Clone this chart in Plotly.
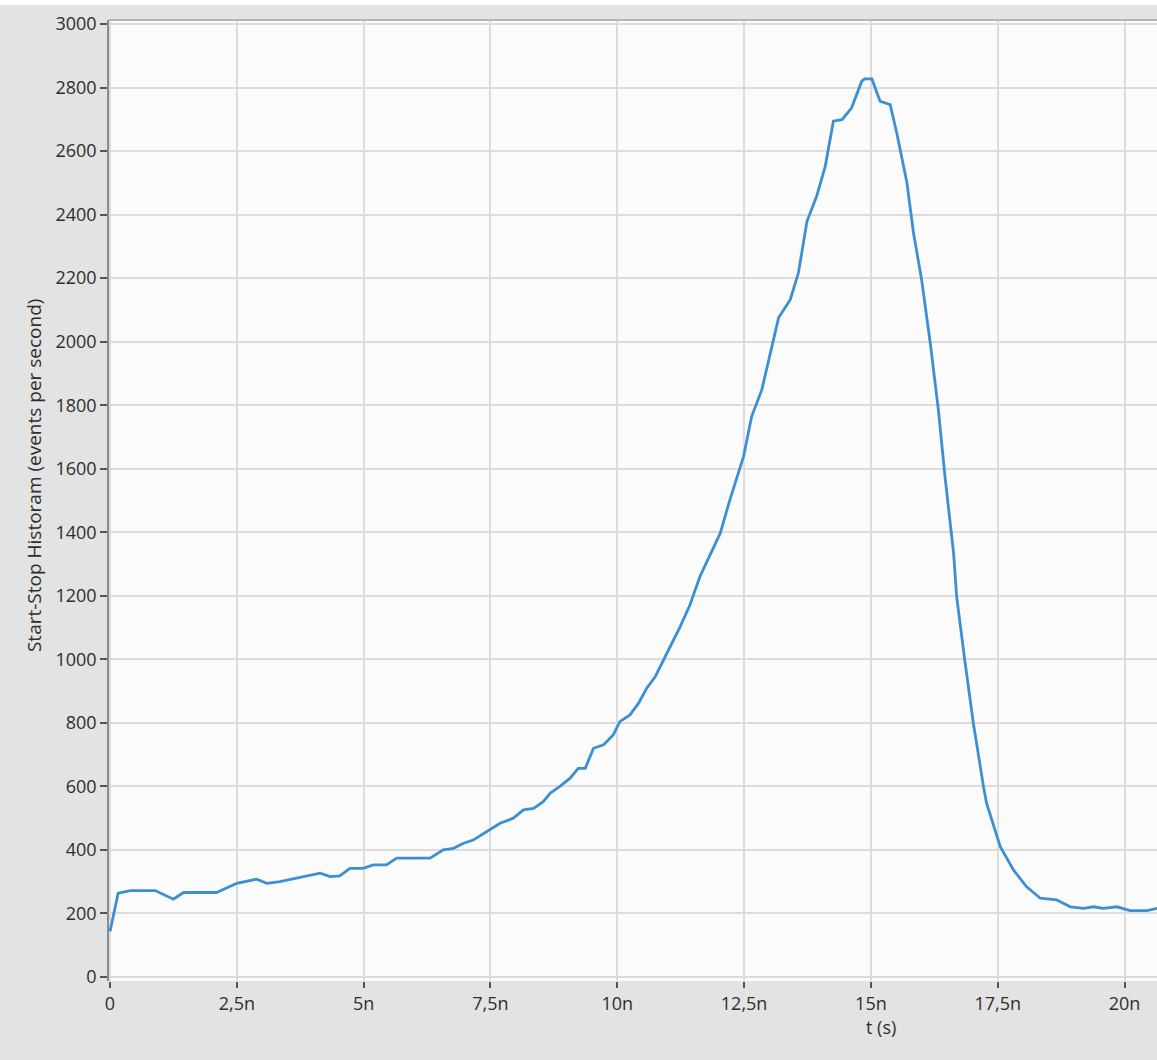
import numpy as np
import plotly.graph_objects as go

# Time (ns) and start-stop histogram rate (events per second)
t_ns = [0.00, 0.16, 0.40, 0.89, 1.25, 1.45, 2.10, 2.50, 2.89, 3.09, 3.35, 3.75,
        4.14, 4.34, 4.53, 4.73, 4.99, 5.19, 5.45, 5.65, 6.11, 6.31, 6.57, 6.77,
        6.97, 7.16, 7.43, 7.69, 7.95, 8.15, 8.35, 8.54, 8.68, 8.87, 9.07, 9.23,
        9.37, 9.53, 9.73, 9.92, 10.05, 10.25, 10.42, 10.58, 10.75, 10.88, 11.04,
        11.24, 11.43, 11.63, 12.03, 12.22, 12.49, 12.65, 12.85, 13.01, 13.18,
        13.41, 13.57, 13.74, 13.93, 14.10, 14.26, 14.43, 14.62, 14.82, 14.88,
        15.02, 15.18, 15.38, 15.51, 15.71, 15.84, 16.00, 16.17, 16.33, 16.46,
        16.63, 16.69, 16.85, 17.02, 17.22, 17.28, 17.55, 17.81, 18.07, 18.34,
        18.66, 18.93, 19.19, 19.39, 19.58, 19.85, 20.11, 20.44, 20.64]
rate = [143, 264, 272, 272, 245, 266, 266, 295, 308, 295, 300, 314,
        327, 316, 318, 342, 342, 353, 353, 374, 374, 374, 400, 405,
        421, 431, 458, 484, 500, 526, 531, 552, 579, 600, 626, 657,
        657, 720, 731, 762, 804, 825, 862, 909, 946, 988, 1040,
        1103, 1170, 1261, 1397, 1502, 1639, 1765, 1849, 1954, 2075,
        2132, 2216, 2379, 2458, 2552, 2694, 2699, 2736, 2820, 2827,
        2827, 2757, 2746, 2657, 2500, 2342, 2195, 1996, 1786, 1576,
        1334, 1198, 998, 799, 599, 547, 410, 337, 284, 248,
        243, 221, 216, 221, 216, 221, 209, 209, 216]

x_tick_ns = [0, 2.5, 5, 7.5, 10, 12.5, 15, 17.5, 20]
x_tick_text = ["0", "2,5n", "5n", "7,5n", "10n", "12,5n", "15n", "17,5n", "20n"]
y_ticks = list(range(0, 3001, 200))

t_s = np.array(t_ns) * 1e-9
x_tickvals = np.array(x_tick_ns) * 1e-9

FONT = "Open Sans, Noto Sans, sans-serif"
BG = "#e3e3e3"
TXT = "#2e2e2e"

fig = go.Figure()
fig.add_trace(go.Scatter(
    x=t_s, y=rate, mode="lines",
    line=dict(color="#3c8fd3", width=2.8),
    showlegend=False, hoverinfo="skip",
))

fig.update_layout(
    width=1157, height=1060,
    margin=dict(l=109, r=0, t=20, b=79),
    paper_bgcolor=BG,
    plot_bgcolor="#fbfbfb",
    font=dict(family=FONT, size=18, color=TXT),
    xaxis=dict(
        range=[-0.02e-9, 20.64e-9],
        tickvals=x_tickvals, ticktext=x_tick_text,
        showgrid=True, gridcolor="#dcdcdc", gridwidth=1.5,
        zeroline=False, showline=False,
        ticks="outside", ticklen=6, tickwidth=2, tickcolor="#555555",
        tickfont=dict(size=18, color=TXT),
    ),
    yaxis=dict(
        range=[-12.6, 3012.6],
        tickvals=y_ticks,
        showgrid=True, gridcolor="#dcdcdc", gridwidth=1.5,
        zeroline=False, showline=True, linecolor="#8c8c8c", linewidth=1.5,
        ticks="outside", ticklen=7, tickwidth=1.5, tickcolor="#555555",
        tickfont=dict(size=18, color=TXT),
    ),
    shapes=[
        dict(type="rect", xref="paper", yref="paper", x0=-0.2, x1=1.0,
             y0=1.0157, y1=1.03, fillcolor="#ffffff", line=dict(width=0), layer="below"),
        dict(type="line", xref="paper", yref="paper", x0=0, x1=1, y0=1, y1=1,
             line=dict(color="#b5b5b5", width=2)),
    ],
    annotations=[
        dict(text="t (s)", xref="paper", yref="paper", x=0.737, y=-0.048,
             xanchor="center", yanchor="middle", showarrow=False,
             font=dict(size=18, color=TXT)),
        dict(text="Start-Stop Historam (events per second)", xref="paper", yref="paper",
             x=-0.072, y=0.526, xanchor="center", yanchor="middle", textangle=-90,
             showarrow=False, font=dict(size=19, color=TXT)),
    ],
)

fig.write_html("out.html")
